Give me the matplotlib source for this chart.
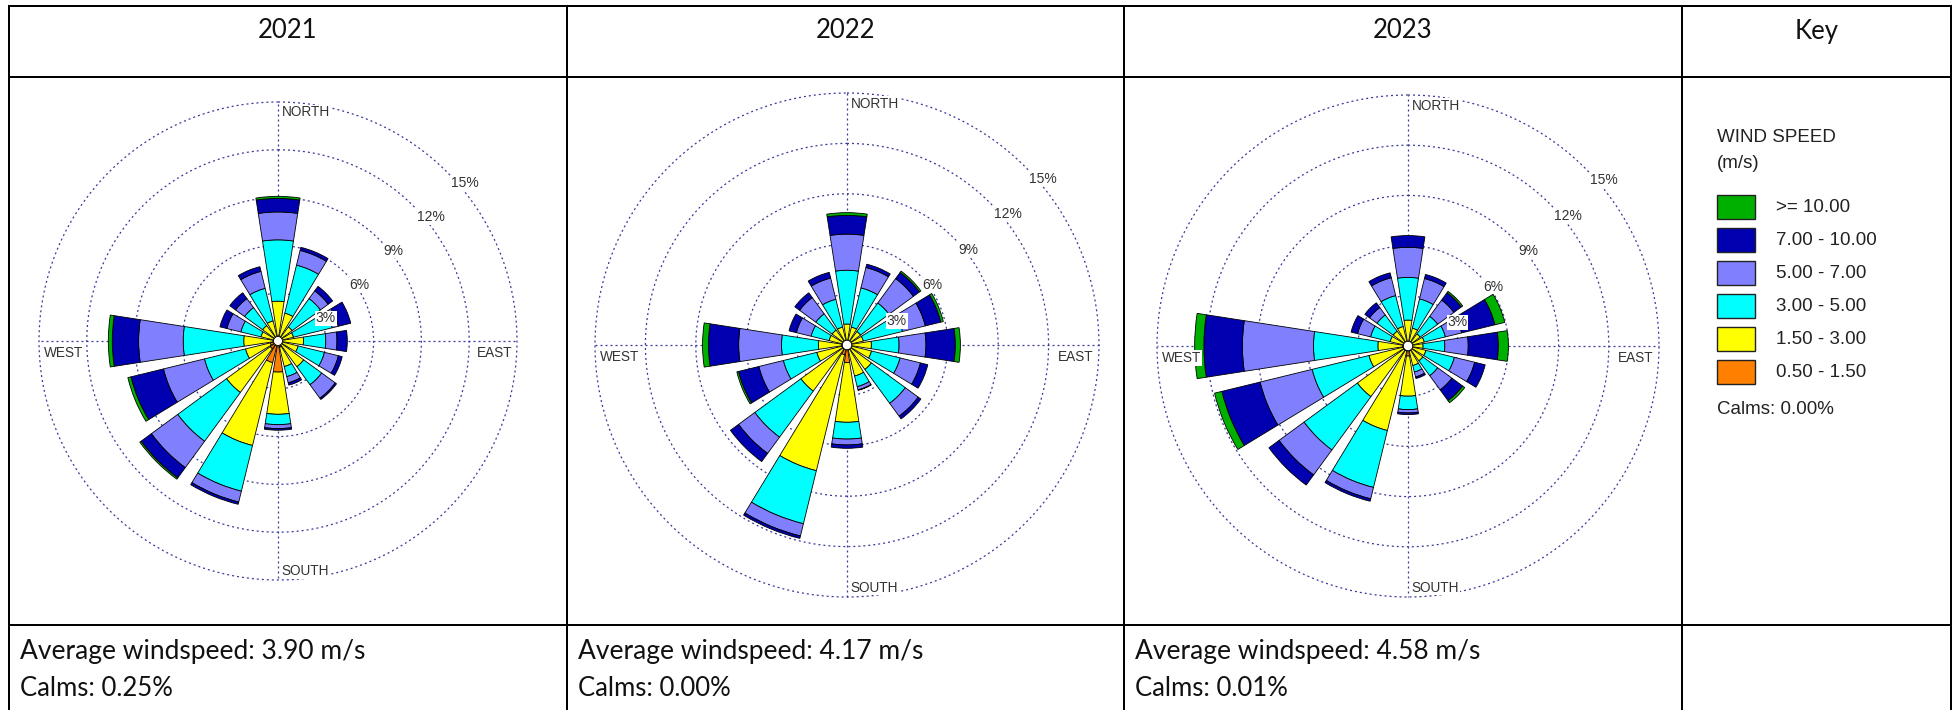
import numpy as np
import matplotlib
matplotlib.use('Agg')
import matplotlib.pyplot as plt
from matplotlib.patches import Rectangle

W, H, DPI = 1959, 710, 100

# wind rose data: % of hours per direction (N clockwise, 16 sectors) and speed class
directions = ['N', 'NNE', 'NE', 'ENE', 'E', 'ESE', 'SE', 'SSE',
              'S', 'SSW', 'SW', 'WSW', 'W', 'WNW', 'NW', 'NNW']
speed_labels = ['0.50 - 1.50', '1.50 - 3.00', '3.00 - 5.00',
                '5.00 - 7.00', '7.00 - 10.00', '>= 10.00']
speed_colors = ['#ff8000', '#ffff00', '#00ffff', '#8080ff', '#0000b0', '#00b000']

years = ['2021', '2022', '2023']
avg_speed = [3.90, 4.17, 4.58]
calms = [0.25, 0.00, 0.01]
key_calms = 0.00
rings = [3, 6, 9, 12, 15]

freq_2021 = [
    [0.30, 0.20, 0.20, 0.20, 0.15, 0.20, 0.20, 0.40, 1.95, 1.40, 0.60, 0.50, 0.30, 0.20, 0.20, 0.20],
    [2.20, 1.60, 0.90, 0.80, 1.45, 1.10, 1.80, 1.25, 2.65, 5.35, 3.40, 1.60, 1.85, 0.90, 1.00, 1.10],
    [3.85, 3.10, 2.20, 2.50, 1.40, 1.70, 1.40, 0.65, 0.65, 2.95, 3.80, 2.65, 3.80, 1.30, 1.40, 2.10],
    [1.75, 0.95, 0.60, 0.40, 0.70, 0.90, 1.05, 0.40, 0.25, 0.70, 2.05, 2.65, 2.80, 0.90, 0.70, 1.10],
    [0.85, 0.20, 0.35, 0.80, 0.65, 0.25, 0.10, 0.15, 0.10, 0.15, 0.80, 2.10, 1.65, 0.45, 0.45, 0.30],
    [0.13, 0.00, 0.00, 0.00, 0.00, 0.00, 0.00, 0.00, 0.00, 0.00, 0.10, 0.20, 0.25, 0.00, 0.00, 0.00],
]
freq_2022 = [
    [0.20, 0.20, 0.20, 0.20, 0.20, 0.20, 0.20, 0.30, 1.05, 0.60, 0.30, 0.30, 0.30, 0.20, 0.20, 0.20],
    [1.05, 0.90, 0.80, 0.80, 1.25, 1.30, 1.60, 1.60, 3.55, 7.10, 3.10, 1.55, 1.40, 0.90, 0.90, 0.90],
    [3.20, 2.40, 2.10, 2.40, 1.65, 1.75, 2.50, 0.65, 1.00, 3.25, 3.40, 2.05, 2.20, 1.10, 1.20, 1.70],
    [2.15, 1.25, 1.80, 1.40, 1.60, 1.25, 0.95, 0.20, 0.35, 0.75, 1.20, 1.50, 2.55, 0.90, 1.20, 1.30],
    [1.12, 0.20, 0.45, 0.95, 1.75, 0.45, 0.20, 0.03, 0.20, 0.15, 0.60, 1.25, 1.80, 0.45, 0.35, 0.35],
    [0.16, 0.00, 0.10, 0.15, 0.30, 0.00, 0.00, 0.00, 0.00, 0.00, 0.00, 0.10, 0.35, 0.00, 0.00, 0.00],
]
freq_2023 = [
    [0.20, 0.20, 0.20, 0.20, 0.20, 0.20, 0.20, 0.30, 0.60, 0.30, 0.30, 0.30, 0.30, 0.20, 0.20, 0.20],
    [1.35, 0.90, 0.70, 0.80, 0.70, 0.90, 0.90, 0.90, 2.40, 4.90, 3.45, 2.10, 1.50, 0.90, 0.90, 1.00],
    [2.55, 1.80, 1.30, 1.30, 1.30, 1.75, 1.10, 0.40, 0.80, 3.50, 3.95, 3.50, 3.85, 1.20, 1.20, 1.90],
    [1.80, 1.25, 1.20, 1.00, 1.40, 1.25, 1.05, 0.30, 0.20, 0.70, 1.85, 3.20, 4.25, 0.80, 0.55, 1.10],
    [0.70, 0.25, 0.55, 2.05, 1.80, 0.65, 0.80, 0.10, 0.10, 0.15, 0.75, 2.35, 2.30, 0.40, 0.35, 0.30],
    [0.00, 0.00, 0.10, 0.60, 0.60, 0.00, 0.15, 0.00, 0.00, 0.00, 0.00, 0.45, 0.55, 0.00, 0.00, 0.00],
]
freqs = [freq_2021, freq_2022, freq_2023]

# layout in pixels
col_x = [9, 567, 1124, 1682, 1951]
row_y = [6, 77, 625]
rose_geom = [(278, 341, 239), (847, 345, 252), (1408, 346, 251)]  # cx, cy, radius of 15 % ring

TABLE_FONT = ['Lato', 'DejaVu Sans']
ROSE_FONT = ['Liberation Sans', 'DejaVu Sans']
GRID_COL = '#3a3a9c'
LABEL_COL = '#333333'

fig = plt.figure(figsize=(W / DPI, H / DPI), dpi=DPI)
bg = fig.add_axes([0, 0, 1, 1])
bg.set_xlim(0, W); bg.set_ylim(H, 0); bg.axis('off')

lw = 2 * 72 / DPI
for y in row_y:
    bg.plot([col_x[0] - 1, col_x[-1] + 1], [y, y], color='black', lw=lw, solid_capstyle='butt')
for x in col_x:
    bg.plot([x, x], [row_y[0] - 1, H], color='black', lw=lw, solid_capstyle='butt')

for i, yr in enumerate(years + ['Key']):
    bg.text((col_x[i] + col_x[i + 1]) / 2, 31, yr, ha='center', va='center',
            fontsize=18.5, family=TABLE_FONT, color='#111111')
for i in range(3):
    bg.text(col_x[i] + 11, 651, f'Average windspeed: {avg_speed[i]:.2f} m/s', ha='left',
            va='center', fontsize=19, family=TABLE_FONT, color='#111111')
    bg.text(col_x[i] + 11, 688, f'Calms: {calms[i]:.2f}%', ha='left', va='center',
            fontsize=18.5, family=TABLE_FONT, color='#111111')

# key panel
kx = 1717
KEY_FS = 13.5
bg.text(kx, 137, 'WIND SPEED', ha='left', va='center', fontsize=KEY_FS, family=ROSE_FONT, color='#222222')
bg.text(kx, 164, '(m/s)', ha='left', va='center', fontsize=KEY_FS, family=ROSE_FONT, color='#222222')
for j, (lab, col) in enumerate(zip(speed_labels[::-1], speed_colors[::-1])):
    top = 195 + 33 * j
    bg.add_patch(Rectangle((kx, top), 38, 24, facecolor=col, edgecolor='#222222', lw=1.0))
    bg.text(kx + 59, top + 12.5, lab, ha='left', va='center', fontsize=KEY_FS,
            family=ROSE_FONT, color='#222222')
bg.text(kx, 410, f'Calms: {key_calms:.2f}%', ha='left', va='center', fontsize=KEY_FS,
        family=ROSE_FONT, color='#222222')


def pol(x, y):
    # cartesian (east, north) in % units -> polar axes coords
    return np.arctan2(x, y), np.hypot(x, y)


theta = np.deg2rad(np.arange(len(directions)) * 22.5)
bar_w = np.deg2rad(17.6)
circ = np.linspace(0, 2 * np.pi, 400)
RMAX = 16.0

for k, (cx, cy, R) in enumerate(rose_geom):
    Rb = R * RMAX / 15
    ax = fig.add_axes([(cx - Rb) / W, (H - cy - Rb) / H, 2 * Rb / W, 2 * Rb / H], projection='polar')
    ax.set_theta_zero_location('N')
    ax.set_theta_direction(-1)
    ax.set_ylim(0, RMAX)
    ax.axis('off')
    ax.patch.set_alpha(0)

    for r in rings:
        ax.plot(circ, np.full_like(circ, r), color=GRID_COL, lw=0.9, ls=(0, (1.6, 2.4)), zorder=1)
    for t in [0, np.pi / 2, np.pi, 1.5 * np.pi]:
        ax.plot([t, t], [0, 15], color=GRID_COL, lw=0.9, ls=(0, (1.6, 2.4)), zorder=1)

    bottom = np.zeros(len(directions))
    for vals, col in zip(freqs[k], speed_colors):
        vals = np.asarray(vals)
        m = vals > 0
        ax.bar(theta[m], vals[m], width=bar_w, bottom=bottom[m], color=col,
               edgecolor='black', linewidth=0.6, zorder=3)
        bottom += vals
    ax.fill(circ, np.full_like(circ, 0.28), facecolor='white', edgecolor='black', lw=0.6, zorder=4)

    box = dict(facecolor='white', edgecolor='none', pad=0.5)
    for r in rings:
        t, rr = pol(0.707 * r + 0.25, 0.707 * r - 0.7)
        ax.text(t, rr, f'{r}%', ha='left', va='center', fontsize=10, family=ROSE_FONT,
                color=LABEL_COL, bbox=box, zorder=5)
    for name, (x, y), ha, va in [('NORTH', (0.22, 14.35), 'left', 'center'),
                                 ('SOUTH', (0.22, -14.45), 'left', 'center'),
                                 ('WEST', (-14.7, -0.3), 'left', 'top'),
                                 ('EAST', (14.7, -0.3), 'right', 'top')]:
        t, rr = pol(x, y)
        ax.text(t, rr, name, ha=ha, va=va, fontsize=9.8, family=ROSE_FONT,
                color=LABEL_COL, bbox=box, zorder=5)

fig.savefig('out.png', dpi=DPI, facecolor='white')
